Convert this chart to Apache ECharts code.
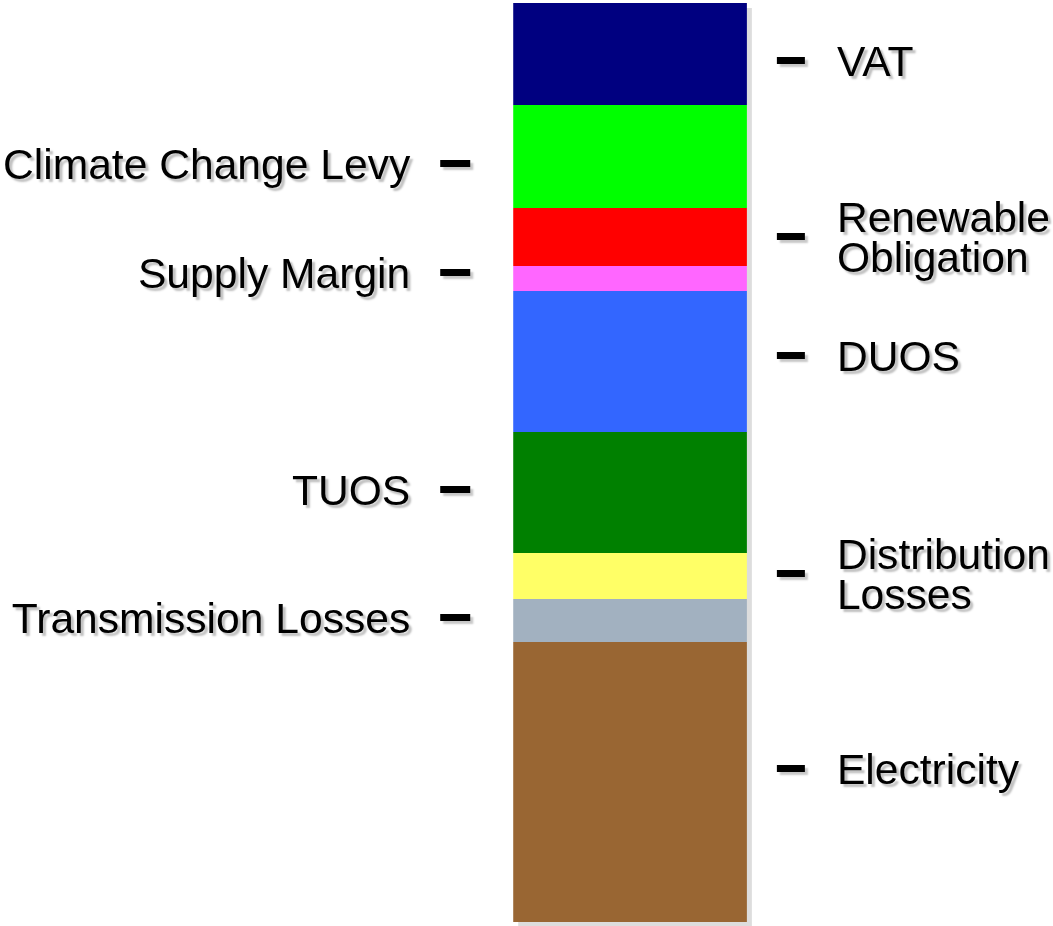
<!DOCTYPE html>
<html>
<head>
<meta charset="utf-8">
<script src="https://cdn.jsdelivr.net/npm/echarts@6/dist/echarts.min.js"></script>
<style>
    html, body { margin: 0; padding: 0; background: #fff; }
    #myChart { width: 1053px; height: 926px; }
</style>
</head>
<body>
<div id="myChart"></div>
<script>
    // segments, bottom to top
    let names = ['Electricity', 'Transmission Losses', 'Distribution\nLosses', 'TUOS', 'DUOS',
        'Supply Margin', 'Renewable\nObligation', 'Climate Change Levy', 'VAT'];
    let values = [280, 43, 46, 121, 141, 25, 58, 103, 102];
    let colors = ['#996633', '#a2b1c0', '#ffff66', '#008000', '#3366ff',
        '#ff66ff', '#ff0000', '#00ff00', '#000080'];
    // where each label sits on the scale, and on which side
    let labelAt = [154, 305, 349, 433, 567, 649.5, 686, 759, 862];
    let side = ['right', 'left', 'right', 'left', 'right', 'left', 'right', 'left', 'right'];

    let total = values.reduce((a, b) => a + b, 0);
    // the text sits a few units lower than its tick mark
    let drop = 4;

    function baseAxis(pos) {
        return {
            type: 'value',
            position: pos,
            offset: pos == 'left' ? 43 : 30,
            min: 0,
            max: total,
            axisLine: { show: false },
            splitLine: { show: false }
        };
    }

    // tick marks only
    function tickAxis(pos) {
        let vals = labelAt.filter((v, i) => side[i] == pos);
        return Object.assign(baseAxis(pos), {
            axisTick: {
                show: true,
                customValues: vals,
                length: pos == 'left' ? 30 : 28,
                lineStyle: {
                    color: '#000',
                    width: 7,
                    shadowColor: 'rgba(0,0,0,0.22)',
                    shadowBlur: 2,
                    shadowOffsetX: 3,
                    shadowOffsetY: 3
                }
            },
            axisLabel: { show: false }
        });
    }

    // label text only
    function textAxis(pos) {
        let vals = labelAt.filter((v, i) => side[i] == pos).map(v => v - drop);
        return Object.assign(baseAxis(pos), {
            axisTick: { show: false },
            axisLabel: {
                customValues: vals,
                margin: 60,
                color: '#000',
                fontFamily: '"Liberation Sans", Arial, sans-serif',
                fontSize: 42.6,
                lineHeight: 40,
                textShadowColor: 'rgba(0,0,0,0.25)',
                textShadowBlur: 2,
                textShadowOffsetX: 3,
                textShadowOffsetY: 3,
                formatter: function (v) {
                    let i = labelAt.findIndex(a => Math.abs(a - drop - v) < 0.01);
                    return i < 0 ? '' : names[i];
                }
            }
        });
    }

    let option = {
        backgroundColor: '#fff',
        animation: false,
        grid: { left: 513, right: 305, top: 3, bottom: 4 },
        xAxis: {
            type: 'category',
            data: ['cost'],
            show: false
        },
        yAxis: [tickAxis('left'), tickAxis('right'), textAxis('left'), textAxis('right')],
        series: values.map((v, i) => ({
            name: names[i],
            type: 'bar',
            stack: 'total',
            barWidth: '100%',
            yAxisIndex: 0,
            z: 20 - i,
            data: [v],
            itemStyle: {
                color: colors[i],
                shadowColor: '#dddddd',
                shadowBlur: 0,
                shadowOffsetX: 5,
                shadowOffsetY: 5
            }
        }))
    };

    let myChart = echarts.init(document.getElementById('myChart'));
    myChart.setOption(option);
</script>
</body>
</html>
